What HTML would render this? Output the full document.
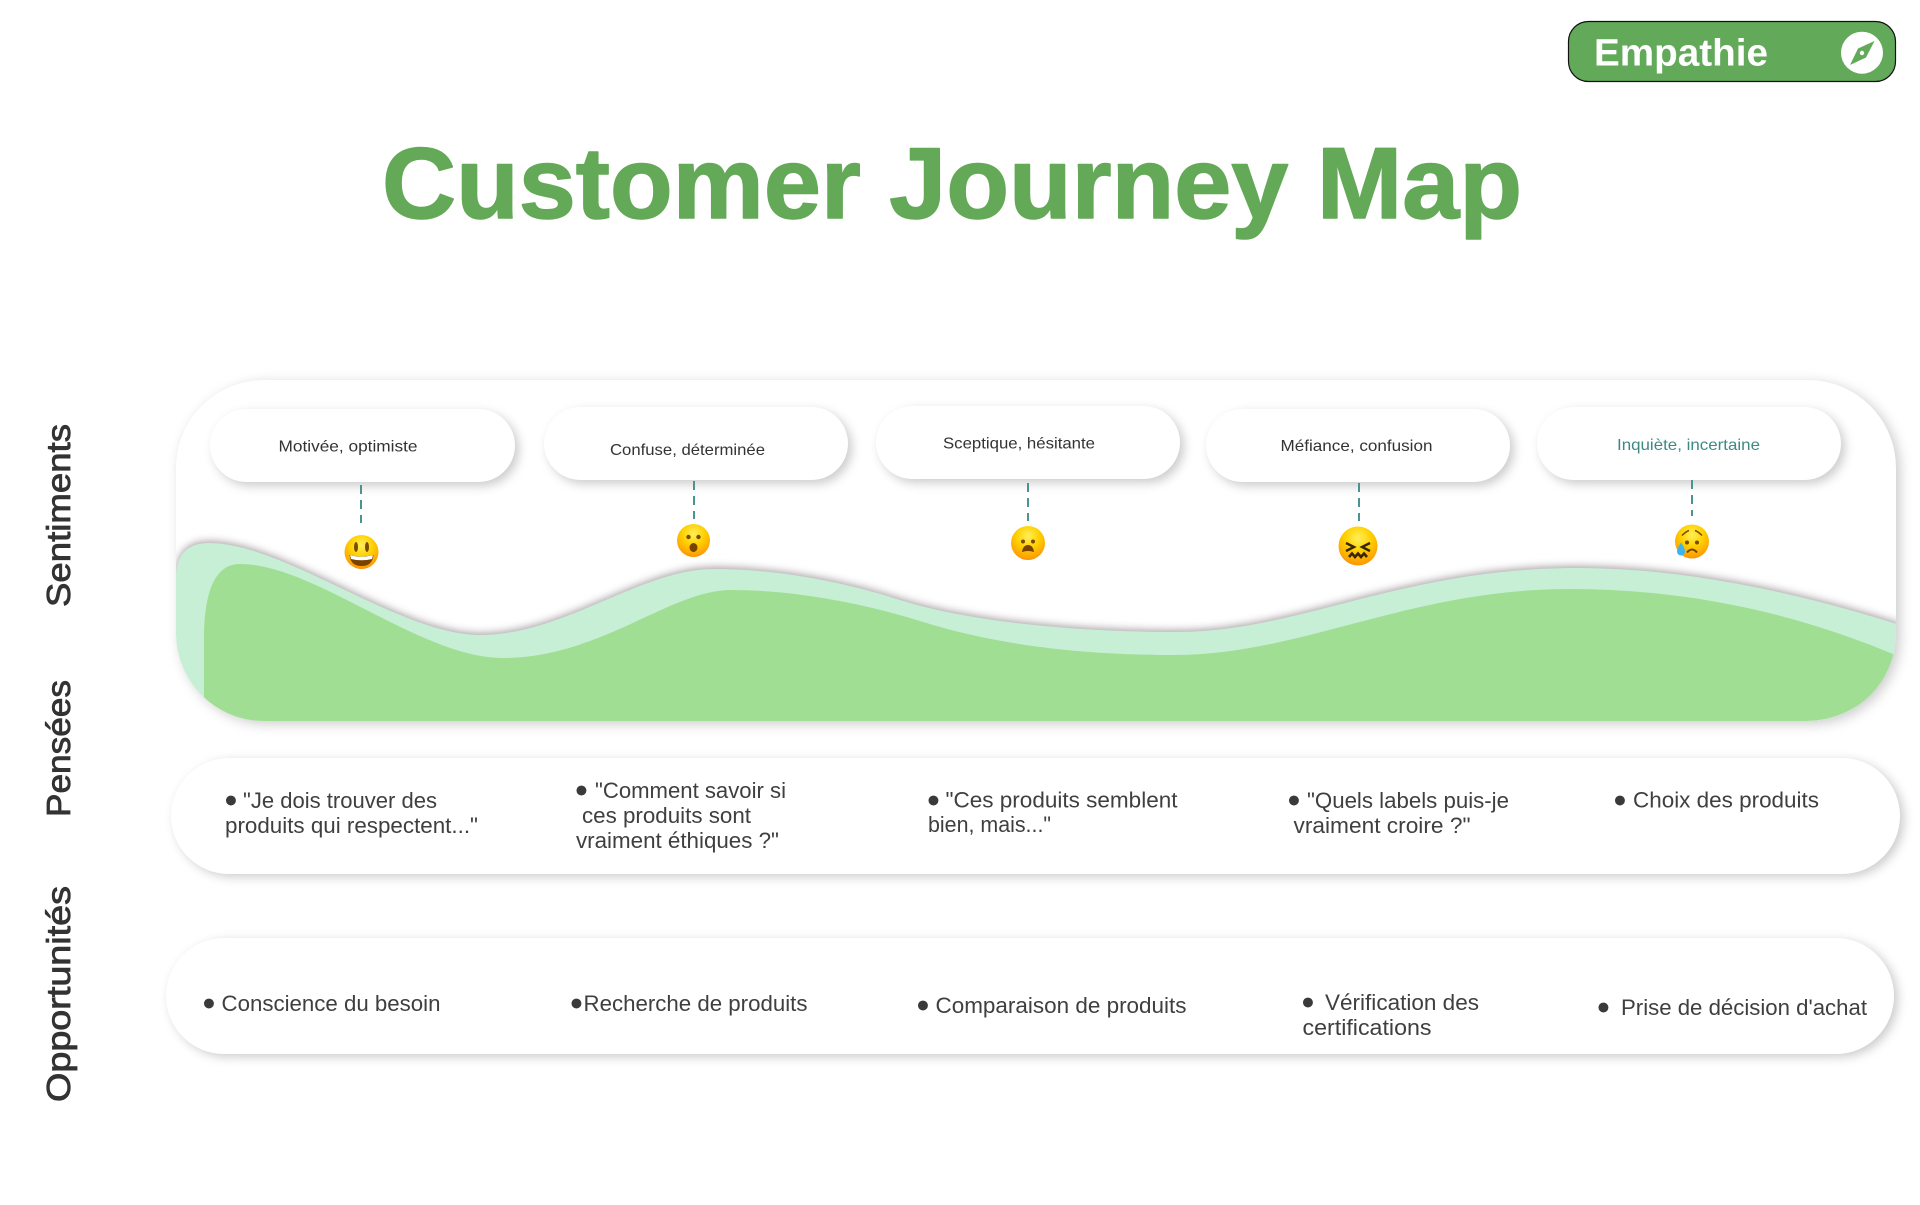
<!DOCTYPE html>
<html lang="fr">
<head>
<meta charset="utf-8">
<title>Customer Journey Map</title>
<style>
html,body{margin:0;padding:0;background:#fff;width:1920px;height:1205px;overflow:hidden}
svg{display:block}
text{font-family:"Liberation Sans",sans-serif}
.r{font-size:22px;fill:#3f3f3f}
.p{font-size:16px;fill:#333}
.b{font-size:23px;fill:#3a3a3a;text-anchor:middle}
.s{font-size:33px;fill:#333;stroke:#333;stroke-width:.8px}
.pill{fill:#fff;filter:drop-shadow(4px 4px 5px rgba(0,0,0,.2))}
.row{fill:#fff;filter:drop-shadow(4px 3px 5px rgba(0,0,0,.2))}
.d{stroke:#4a9391;stroke-width:2;stroke-dasharray:9 6;fill:none}
</style>
</head>
<body>
<svg width="1920" height="1205" viewBox="0 0 1920 1205" xmlns="http://www.w3.org/2000/svg">
<defs>
<radialGradient id="em" cx="50%" cy="30%" r="75%">
<stop offset="0" stop-color="#ffef5a"/><stop offset=".45" stop-color="#ffd000"/><stop offset=".85" stop-color="#fd9f05"/><stop offset="1" stop-color="#f58a00"/>
</radialGradient>
<clipPath id="pc"><rect x="176" y="380" width="1720" height="341" rx="88" ry="88"/></clipPath>
</defs>

<!-- Badge -->
<rect x="1568.5" y="21.5" width="327" height="60" rx="20" ry="20" fill="#62aa5a" stroke="#111" stroke-width="1.2"/>
<text x="1594" y="65.5" font-size="38" font-weight="bold" fill="#fff" textLength="174" lengthAdjust="spacingAndGlyphs">Empathie</text>
<circle cx="1862" cy="52.7" r="21" fill="#fff"/>
<polygon points="1874.5,41 1866,57.5 1850,65 1858,48.5" fill="#62aa5a"/>
<circle cx="1862" cy="53" r="2.2" fill="#fff"/>

<!-- Title -->
<text x="382" y="218" font-size="101" font-weight="bold" fill="#63a957" stroke="#63a957" stroke-width="1.5" stroke-linejoin="round" textLength="1140" lengthAdjust="spacingAndGlyphs">Customer Journey Map</text>

<!-- Side labels -->
<text class="s" transform="translate(70,607) rotate(-90)" textLength="183" lengthAdjust="spacingAndGlyphs">Sentiments</text>
<text class="s" transform="translate(70,817) rotate(-90)" textLength="137" lengthAdjust="spacingAndGlyphs">Pensées</text>
<text class="s" transform="translate(70,1102) rotate(-90)" textLength="216" lengthAdjust="spacingAndGlyphs">Opportunités</text>

<!-- Main panel -->
<rect x="176" y="380" width="1720" height="341" rx="88" ry="88" fill="#fff" style="filter:drop-shadow(4px 3px 6px rgba(0,0,0,.2))"/>
<g clip-path="url(#pc)">
<path d="M176 721 L176 578 C176 552 190 543 209 543 C285 543 400 635 480 635 C565 635 640 569 714 569 C770 569 835 579 900 600 C960 619 1060 632 1176 632 C1300 632 1400 568 1577 568 C1680 568 1790 590 1900 625 L1900 721 Z" fill="#c6efd6" style="filter:drop-shadow(0 -2px 4px rgba(60,40,50,.42))"/>
<path d="M204 721 L204 640 C204 585 218 564 240 564 C315 564 420 658 503 658 C600 658 670 590 731 590 C790 590 855 601 920 621 C980 640 1060 655 1176 655 C1300 655 1410 589 1570 589 C1680 589 1790 610 1900 657 C1885 690 1850 721 1806 721 Z" fill="#a0df93"/>
</g>

<!-- Pills -->
<rect class="pill" x="210" y="409" width="305" height="73" rx="36.5"/>
<rect class="pill" x="544" y="407" width="304" height="73" rx="36.5"/>
<rect class="pill" x="876" y="406" width="304" height="73" rx="36.5"/>
<rect class="pill" x="1206" y="409" width="304" height="73" rx="36.5"/>
<rect class="pill" x="1537" y="407" width="304" height="73" rx="36.5"/>
<text class="p" x="278.5" y="451.5" textLength="139" lengthAdjust="spacingAndGlyphs">Motivée, optimiste</text>
<text class="p" x="610" y="455" textLength="155" lengthAdjust="spacingAndGlyphs">Confuse, déterminée</text>
<text class="p" x="943" y="448.5" textLength="152" lengthAdjust="spacingAndGlyphs">Sceptique, hésitante</text>
<text class="p" x="1280.5" y="451" textLength="152" lengthAdjust="spacingAndGlyphs">Méfiance, confusion</text>
<text class="p" x="1617" y="450" textLength="143" lengthAdjust="spacingAndGlyphs" style="fill:#3d8a85">Inquiète, incertaine</text>

<!-- Dashed connectors -->
<line class="d" x1="361" y1="485" x2="361" y2="523"/>
<line class="d" x1="694" y1="481" x2="694" y2="519"/>
<line class="d" x1="1028" y1="483" x2="1028" y2="521"/>
<line class="d" x1="1359" y1="483" x2="1359" y2="521"/>
<line class="d" x1="1692" y1="480" x2="1692" y2="516"/>

<!-- Emoji 1: grin -->
<g transform="translate(361.5,552)">
<circle r="17" fill="url(#em)"/>
<ellipse cx="-5.5" cy="-5" rx="2" ry="5" fill="#7a4a00"/><ellipse cx="5.5" cy="-5" rx="2" ry="5" fill="#7a4a00"/>
<path d="M-12 3 Q0 6 12 3 Q11 14 0 14 Q-11 14 -12 3Z" fill="#7a4200"/>
<path d="M-11.5 3.3 Q0 6 11.5 3.3 L10.5 7 Q0 9.5 -10.5 7Z" fill="#fff"/>
</g>
<!-- Emoji 2: surprised -->
<g transform="translate(693.5,540.5)">
<circle r="16.5" fill="url(#em)"/>
<circle cx="-5" cy="-3.5" r="2.2" fill="#7a4a00"/><circle cx="5" cy="-3.5" r="2.2" fill="#7a4a00"/>
<ellipse cx="0" cy="7" rx="4" ry="4.5" fill="#7a4200"/>
</g>
<!-- Emoji 3: frowning open -->
<g transform="translate(1028,543)">
<circle r="17" fill="url(#em)"/>
<circle cx="-5" cy="-1.5" r="2" fill="#7a4a00"/><circle cx="5" cy="-1.5" r="2" fill="#7a4a00"/>
<path d="M-6 9 Q-5 2 0 2 Q5 2 6 9 Q0 7 -6 9Z" fill="#7a4200"/>
</g>
<!-- Emoji 4: confounded -->
<g transform="translate(1358,546)">
<circle r="19.5" fill="url(#em)"/>
<path d="M-12 -3 L-4 1 L-12 5 M12 -3 L4 1 L12 5" fill="none" stroke="#3a2500" stroke-width="2.4"/>
<path d="M-9 11 L-6 7.5 L-3 11 L0 7.5 L3 11 L6 7.5 L9 11" fill="none" stroke="#3a2500" stroke-width="2.6"/>
</g>
<!-- Emoji 5: crying -->
<g transform="translate(1692,541.5)">
<circle r="17" fill="url(#em)"/>
<path d="M-10 -6 Q-6 -10 -3 -11 M10 -6 Q6 -10 3 -11" fill="none" stroke="#7a4a00" stroke-width="1.5"/>
<circle cx="-5" cy="1" r="2" fill="#7a4a00"/><circle cx="5" cy="1" r="2" fill="#7a4a00"/>
<path d="M-5 11 Q0 5 5 11" fill="none" stroke="#7a4200" stroke-width="2"/>
<path d="M-11 1 Q-7 7 -7 10 A4 4 0 0 1 -15 10 Q-15 7 -11 1Z" fill="#3db4ee"/>
</g>

<!-- Row: Pensées -->
<rect class="row" x="171" y="758" width="1729" height="116" rx="58"/>
<!-- Row: Opportunités -->
<rect class="row" x="166" y="938" width="1728" height="116" rx="58"/>

<!-- Pensées text -->
<text class="b" x="231" y="807">●</text>
<text class="r" x="243" y="808" textLength="194" lengthAdjust="spacingAndGlyphs">"Je dois trouver des</text>
<text class="r" x="225" y="833" textLength="253" lengthAdjust="spacingAndGlyphs">produits qui respectent..."</text>

<text class="b" x="581.5" y="797">●</text>
<text class="r" x="595" y="798" textLength="191" lengthAdjust="spacingAndGlyphs">"Comment savoir si</text>
<text class="r" x="582" y="823" textLength="169" lengthAdjust="spacingAndGlyphs">ces produits sont</text>
<text class="r" x="576" y="848" textLength="203" lengthAdjust="spacingAndGlyphs">vraiment éthiques ?"</text>

<text class="b" x="933.5" y="807">●</text>
<text class="r" x="945.5" y="807.5" textLength="232" lengthAdjust="spacingAndGlyphs">"Ces produits semblent</text>
<text class="r" x="928" y="832" textLength="123" lengthAdjust="spacingAndGlyphs">bien, mais..."</text>

<text class="b" x="1294" y="807">●</text>
<text class="r" x="1307" y="808" textLength="202" lengthAdjust="spacingAndGlyphs">"Quels labels puis-je</text>
<text class="r" x="1293.5" y="833" textLength="177" lengthAdjust="spacingAndGlyphs">vraiment croire ?"</text>

<text class="b" x="1620" y="807">●</text>
<text class="r" x="1633" y="807.5" textLength="186" lengthAdjust="spacingAndGlyphs">Choix des produits</text>

<!-- Opportunités text -->
<text class="b" x="209" y="1010">●</text>
<text class="r" x="221.5" y="1011" textLength="219" lengthAdjust="spacingAndGlyphs">Conscience du besoin</text>

<text class="b" x="576.5" y="1010">●</text>
<text class="r" x="583.5" y="1011" textLength="224" lengthAdjust="spacingAndGlyphs">Recherche de produits</text>

<text class="b" x="923" y="1012">●</text>
<text class="r" x="935.5" y="1013" textLength="251" lengthAdjust="spacingAndGlyphs">Comparaison de produits</text>

<text class="b" x="1308" y="1009">●</text>
<text class="r" x="1325" y="1010" textLength="154" lengthAdjust="spacingAndGlyphs">Vérification des</text>
<text class="r" x="1302.5" y="1035" textLength="129" lengthAdjust="spacingAndGlyphs">certifications</text>

<text class="b" x="1603.5" y="1014">●</text>
<text class="r" x="1621" y="1015" textLength="246" lengthAdjust="spacingAndGlyphs">Prise de décision d'achat</text>
</svg>
</body>
</html>
